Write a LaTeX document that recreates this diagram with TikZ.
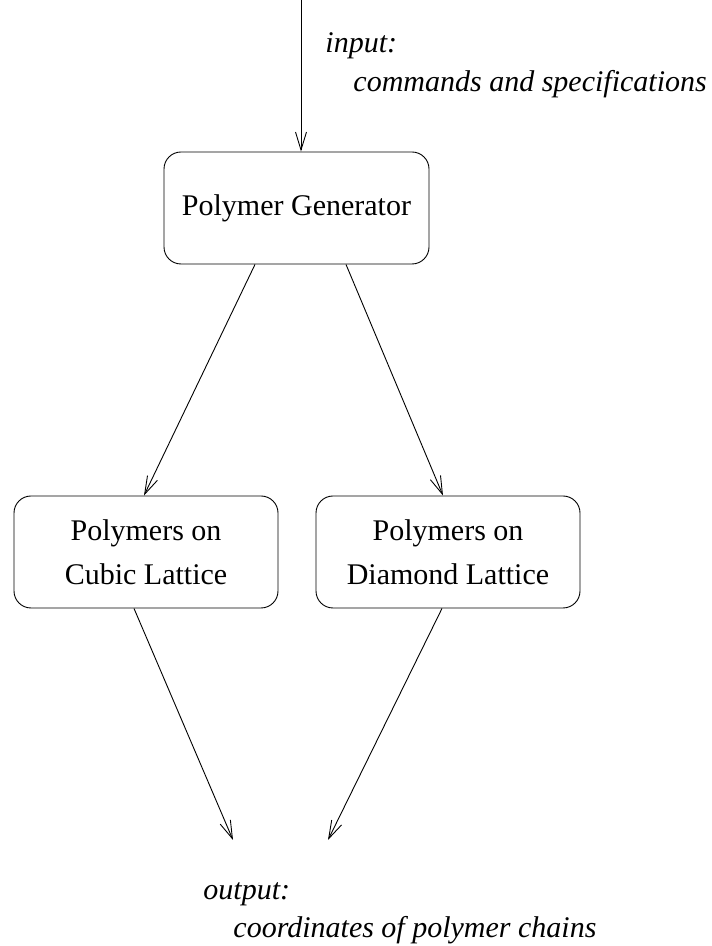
\documentclass[tikz,border=0pt]{standalone}
\usepackage{fontspec}
\setmainfont{Liberation Serif}
\usetikzlibrary{arrows.meta,calc}
\begin{document}
\begin{tikzpicture}[x=1pt,y=1pt,
  line width=0.9pt,
  box/.style={draw, rounded corners=17pt, minimum height=112pt, align=center,
    inner sep=0pt, font=\fontsize{30}{44}\selectfont},
  lbl/.style={anchor=base west, inner sep=0pt, font=\fontsize{30}{36}\selectfont\itshape},
  arr/.style={-{Straight Barb[length=18pt,width=11pt,line width=0.9pt]}}]
\useasboundingbox (0,0) rectangle (712,946);
% boxes
\node[box, minimum width=265pt] (pg) at (296.5,738) {Polymer Generator};
\node[box, minimum width=264pt] (cubic) at (146,394) {Polymers on\\Cubic Lattice};
\node[box, minimum width=264pt] (diamond) at (448,394) {Polymers on\\Diamond Lattice};
% labels
\node[lbl] (in1) at (325,893) {input:};
\node[lbl] (in2) at (353,854) {commands and specifications};
\node[lbl] (out1) at (203,46) {output:};
\node[lbl] (out2) at (233,9) {coordinates of polymer chains};
% free ends
\coordinate (src) at (301,946);
\coordinate (endL) at (233,106);
\coordinate (endR) at (328,106);
% connectors
\draw[arr] (src) -- ([xshift=4.5pt]pg.north);
\draw[arr] ([xshift=-41.5pt]pg.south) -- ([xshift=-2pt]cubic.north);
\draw[arr] ([xshift=49.5pt]pg.south) -- ([xshift=-5pt]diamond.north);
\draw[arr] ([xshift=-12pt]cubic.south) -- (endL);
\draw[arr] ([xshift=-6pt]diamond.south) -- (endR);
\end{tikzpicture}
\end{document}
